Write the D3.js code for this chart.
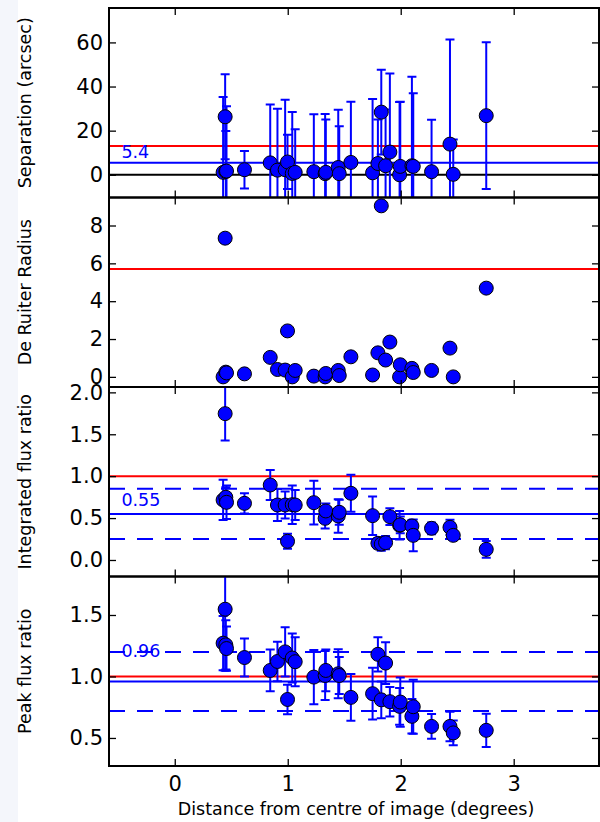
<!DOCTYPE html>
<html><head><meta charset="utf-8">
<script src="https://cdn.jsdelivr.net/npm/d3@7"></script>
<style>
html,body{margin:0;padding:0;background:#fff;}
svg{display:block;font-family:"DejaVu Sans",sans-serif;}
</style></head>
<body>
<svg id="chart" width="600" height="822"></svg>
<script>
// ---------------- data ----------------
const dist    = [0.428,0.446,0.452,0.458,0.617,0.845,0.909,0.977,0.998,1.040,1.066,1.231,1.331,1.337,1.447,1.456,1.559,1.751,1.798,1.828,1.866,1.904,1.990,1.996,2.099,2.111,2.273,2.436,2.465,2.757];
const sepVal  = [1.1,26.3,1.5,1.7,2.3,5.4,2.1,2.3,5.8,0.6,1.1,1.4,0.5,1.1,3.3,0.5,5.6,0.9,5.1,28.4,4.1,10.3,0.0,3.8,4.1,3.8,1.4,13.9,0.2,26.8];
const sepErr  = [34.2,19.3,18.4,29.4,8.5,26.5,27.8,31.7,12.3,27.9,19.5,26.0,27.1,24.0,26.2,21.5,27.5,33.4,20.0,19.2,25.5,35.6,33.0,29.3,40.3,33.1,23.5,47.4,15.8,33.3];
const drVal   = [0.0,7.33,0.25,0.21,0.16,1.03,0.39,0.36,2.43,0.0,0.34,0.04,0.0,0.18,0.34,0.07,1.06,0.10,1.27,9.04,0.89,1.84,0.0,0.64,0.45,0.23,0.34,1.52,0.0,4.69];
const intVal  = [0.716,1.746,0.748,0.688,0.676,0.895,0.656,0.656,0.223,0.66,0.656,0.684,0.497,0.585,0.525,0.569,0.796,0.529,0.199,0.19,0.207,0.517,0.414,0.42,0.406,0.294,0.378,0.39,0.294,0.127];
const intErr  = [0.24,0.32,0.12,0.20,0.12,0.18,0.19,0.16,0.09,0.23,0.18,0.26,0.12,0.09,0.20,0.15,0.22,0.23,0.06,0.08,0.08,0.10,0.17,0.10,0.07,0.19,0.07,0.09,0.05,0.10];
const peakVal = [1.271,1.547,1.257,1.227,1.154,1.049,1.122,1.20,0.813,1.15,1.12,0.995,1.008,1.049,1.022,1.008,0.83,0.86,1.18,0.81,1.109,0.795,0.757,0.792,0.676,0.754,0.594,0.594,0.541,0.562];
const peakErr = [0.22,0.50,0.20,0.18,0.155,0.17,0.16,0.20,0.12,0.20,0.20,0.22,0.20,0.17,0.20,0.15,0.19,0.21,0.14,0.15,0.17,0.12,0.15,0.20,0.14,0.22,0.10,0.12,0.10,0.135];

const panelLabels = ["Separation (arcsec)","De Ruiter Radius","Integrated flux ratio","Peak flux ratio"];
const xTicks      = [0,1,2,3];
const xTickLabels = ["0","1","2","3"];
const yTickSets   = [[0,20,40,60],[0,2,4,6,8],[0,0.5,1,1.5,2],[0.5,1,1.5]];
const yTickLabels = [["0","20","40","60"],["0","2","4","6","8"],["0.0","0.5","1.0","1.5","2.0"],["0.5","1.0","1.5"]];
const yDomains    = [[-10.3,75.6],[-0.535,9.48],[-0.197,2.064],[0.272,1.813]];
const refLines    = [13.0,5.7,1.0,1.0];          // red
const meanLines   = [5.4,null,0.55,0.96];        // blue solid
const bandLines   = [null,null,[0.25,0.85],[0.72,1.20]]; // blue dashed
const meanLabels  = ["5.4",null,"0.55","0.96"];
const meanLabelY  = [7.43,null,0.648,1.157];
const zeroLines   = [0,null,null,null];          // black
const xDomain     = [-0.582,3.755];
const xLabel      = "Distance from centre of image (degrees)";

// ---------------- layout ----------------
const svg = d3.select("#chart");
svg.append("rect").attr("x",0).attr("y",0).attr("width",18).attr("height",822).attr("fill","#f4f6fb");

const left = 109, right = 599;
const tops = [8,197.5,387,576.5];
const ph = 189.5;
const x = d3.scaleLinear().domain(xDomain).range([left,right]);

const series = [
  {val:sepVal, err:sepErr},
  {val:drVal, err:null},
  {val:intVal, err:intErr},
  {val:peakVal, err:peakErr}
];

const BLUE = "#0000ff", RED = "#ff0000";

series.forEach((s,i)=>{
  const top = tops[i], bottom = top+ph;
  const y = d3.scaleLinear().domain(yDomains[i]).range([bottom,top]);
  const g = svg.append("g");
  const cid = "clip"+i;
  svg.append("clipPath").attr("id",cid).append("rect")
    .attr("x",left).attr("y",top).attr("width",right-left).attr("height",ph);
  const data = g.append("g").attr("clip-path",`url(#${cid})`);

  if (zeroLines[i]!==null) data.append("line").attr("x1",left).attr("x2",right)
      .attr("y1",y(zeroLines[i])).attr("y2",y(zeroLines[i])).attr("stroke","#000").attr("stroke-width",2);
  if (bandLines[i]) bandLines[i].forEach(v=>{
    data.append("line").attr("x1",left).attr("x2",right).attr("y1",y(v)).attr("y2",y(v))
      .attr("stroke",BLUE).attr("stroke-width",2).attr("stroke-dasharray","16,12");
  });
  if (meanLines[i]!==null) data.append("line").attr("x1",left).attr("x2",right)
      .attr("y1",y(meanLines[i])).attr("y2",y(meanLines[i])).attr("stroke",BLUE).attr("stroke-width",2);
  data.append("line").attr("x1",left).attr("x2",right)
      .attr("y1",y(refLines[i])).attr("y2",y(refLines[i])).attr("stroke",RED).attr("stroke-width",2);

  if (s.err){
    const eb = data.append("g").attr("stroke",BLUE).attr("stroke-width",2);
    dist.forEach((d,k)=>{
      const xx = x(d), y1 = y(s.val[k]-s.err[k]), y2 = y(s.val[k]+s.err[k]);
      eb.append("line").attr("x1",xx).attr("x2",xx).attr("y1",y1).attr("y2",y2);
      eb.append("line").attr("x1",xx-4.5).attr("x2",xx+4.5).attr("y1",y1).attr("y2",y1);
      eb.append("line").attr("x1",xx-4.5).attr("x2",xx+4.5).attr("y1",y2).attr("y2",y2);
    });
  }
  data.append("g").selectAll("circle").data(dist).join("circle")
    .attr("cx",d=>x(d)).attr("cy",(d,k)=>y(s.val[k])).attr("r",7)
    .attr("fill",BLUE).attr("stroke","#000").attr("stroke-width",1);

  if (meanLabels[i]) data.append("text").attr("x",x(-0.472)).attr("y",y(meanLabelY[i]))
      .attr("fill",BLUE).attr("font-size",17.5).text(meanLabels[i]);

  const ya = d3.axisLeft(y).tickValues(yTickSets[i]).tickFormat((d,k)=>yTickLabels[i][k])
      .tickSizeInner(-7).tickSizeOuter(0).tickPadding(6);
  const gy = g.append("g").attr("transform",`translate(${left},0)`).call(ya);
  gy.select(".domain").remove();
  gy.selectAll("text").attr("font-size",21).attr("font-family","DejaVu Sans").attr("fill","#000");
  gy.selectAll("line").attr("stroke-width",1.3);

  const yr = d3.axisRight(y).tickValues(yTickSets[i]).tickFormat("").tickSizeInner(-7).tickSizeOuter(0);
  const gyr = g.append("g").attr("transform",`translate(${right},0)`).call(yr);
  gyr.select(".domain").remove();
  gyr.selectAll("line").attr("stroke-width",1.3);

  const xt = d3.axisTop(x).tickValues(xTicks).tickFormat("").tickSizeInner(-7).tickSizeOuter(0);
  const gxt = g.append("g").attr("transform",`translate(0,${top})`).call(xt);
  gxt.select(".domain").remove();
  gxt.selectAll("line").attr("stroke-width",1.3);

  const xb = d3.axisBottom(x).tickValues(xTicks)
      .tickFormat(i===3 ? (d,k)=>xTickLabels[k] : "").tickSizeInner(-7).tickSizeOuter(0).tickPadding(10);
  const gxb = g.append("g").attr("transform",`translate(0,${bottom})`).call(xb);
  gxb.select(".domain").remove();
  gxb.selectAll("line").attr("stroke-width",1.3);
  gxb.selectAll("text").attr("font-size",21).attr("font-family","DejaVu Sans").attr("fill","#000");

  g.append("rect").attr("x",left).attr("y",top).attr("width",right-left).attr("height",ph)
    .attr("fill","none").attr("stroke","#000").attr("stroke-width",2);

  svg.append("text").attr("transform",`translate(31,${top+ph/2}) rotate(-90)`)
    .attr("text-anchor","middle").attr("font-size",17.5).text(panelLabels[i]);
});

svg.append("text").attr("x",356).attr("y",815).attr("text-anchor","middle")
  .attr("font-size",17.5).text(xLabel);
</script>
</body></html>
